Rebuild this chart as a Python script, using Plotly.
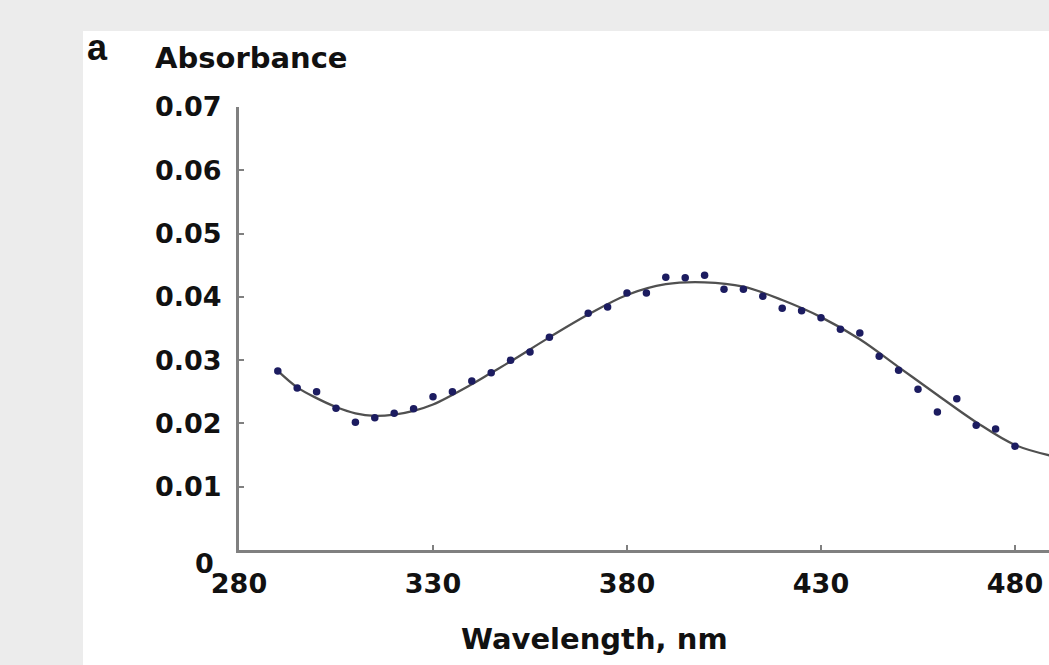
import plotly.graph_objects as go

# Measured points (wavelength nm, absorbance)
wavelength = [290, 295, 300, 305, 310, 315, 320, 325, 330, 335, 340, 345, 350, 355, 360,
              370, 375, 380, 385, 390, 395, 400, 405, 410, 415, 420, 425, 430, 435, 440,
              445, 450, 455, 460, 465, 470, 475, 480]
absorbance = [0.0283, 0.0256, 0.0250, 0.0224, 0.0202, 0.0209, 0.0216, 0.0223, 0.0242, 0.0250,
              0.0267, 0.0280, 0.0300, 0.0313, 0.0336, 0.0374, 0.0384, 0.0406, 0.0406, 0.0431,
              0.0430, 0.0434, 0.0412, 0.0412, 0.0401, 0.0382, 0.0378, 0.0367, 0.0349, 0.0343,
              0.0306, 0.0284, 0.0254, 0.0218, 0.0239, 0.0197, 0.0191, 0.0164]

# Fitted curve
fit_x = [290, 295, 300, 305, 310, 315, 320, 325, 330, 340, 345, 350, 360, 370, 380,
         390, 400, 410, 420, 430, 440, 450, 460, 470, 480, 490]
fit_y = [0.0283, 0.0257, 0.0240, 0.0226, 0.0216, 0.0212, 0.0214, 0.0220, 0.0230, 0.0262,
         0.0280, 0.0298, 0.0336, 0.0372, 0.0403, 0.0420, 0.0423, 0.0416, 0.0395, 0.0368,
         0.0333, 0.0289, 0.0245, 0.0202, 0.0166, 0.0148]

x_ticks = [280, 330, 380, 430, 480]
y_ticks = [0.01, 0.02, 0.03, 0.04, 0.05, 0.06, 0.07]
y_tick_text = ["0.01", "0.02", "0.03", "0.04", "0.05", "0.06", "0.07"]

W, H = 1049, 665
L, R, T, B = 239, 0, 107, 115
pw, ph = W - L - R, H - T - B


def px(x):
    return (x - L) / pw


def py(y):
    return (H - B - y) / ph


font_fam = "DejaVu Sans"
axis_col = "#808080"

fig = go.Figure()
fig.add_trace(go.Scatter(x=fit_x, y=fit_y, mode="lines",
                         line=dict(color="#505050", width=2.3, shape="spline", smoothing=1.0),
                         hoverinfo="skip", showlegend=False))
fig.add_trace(go.Scatter(x=wavelength, y=absorbance, mode="markers",
                         marker=dict(color="#1c1c60", size=7.5),
                         showlegend=False))

fig.update_layout(
    width=W, height=H, autosize=False,
    margin=dict(l=L, r=R, t=T, b=B, pad=0),
    paper_bgcolor="#ececec", plot_bgcolor="white",
    font=dict(family=font_fam, color="#111111"),
    shapes=[dict(type="rect", xref="paper", yref="paper", layer="below",
                 x0=px(83), x1=px(W + 5), y0=py(H + 5), y1=py(31),
                 fillcolor="white", line=dict(width=0))],
    xaxis=dict(range=[280, 280 + pw / 3.88], tickvals=x_ticks,
               ticktext=[str(v) for v in x_ticks],
               showgrid=False, zeroline=False, showline=True, linecolor=axis_col, linewidth=3,
               ticks="inside", ticklen=5, tickwidth=2, tickcolor=axis_col,
               tickfont=dict(family=font_fam, size=27, weight="bold", color="#111111"),
               ticklabelstandoff=8),
    yaxis=dict(range=[0, 0.07], tickvals=y_ticks, ticktext=y_tick_text,
               showgrid=False, zeroline=False, showline=True, linecolor=axis_col, linewidth=3,
               ticks="inside", ticklen=5, tickwidth=2, tickcolor=axis_col,
               tickfont=dict(family=font_fam, size=27, weight="bold", color="#111111"),
               ticklabelstandoff=9),
    annotations=[
        dict(text="a", xref="paper", yref="paper", x=px(85), y=py(47), xanchor="left",
             yanchor="middle", showarrow=False,
             font=dict(family="Liberation Sans", size=36, weight="bold", color="#111111")),
        dict(text="Absorbance", xref="paper", yref="paper", x=px(153), y=py(58),
             xanchor="left", yanchor="middle", showarrow=False,
             font=dict(family=font_fam, size=29, weight="bold", color="#111111")),
        dict(text="Wavelength, nm", xref="paper", yref="paper", x=px(459), y=py(639),
             xanchor="left", yanchor="middle", showarrow=False,
             font=dict(family=font_fam, size=29, weight="bold", color="#111111")),
        dict(text="0", xref="paper", yref="paper", x=px(216), y=py(563),
             xanchor="right", yanchor="middle", showarrow=False,
             font=dict(family=font_fam, size=27, weight="bold", color="#111111")),
    ],
)

fig.write_html("out.html")
